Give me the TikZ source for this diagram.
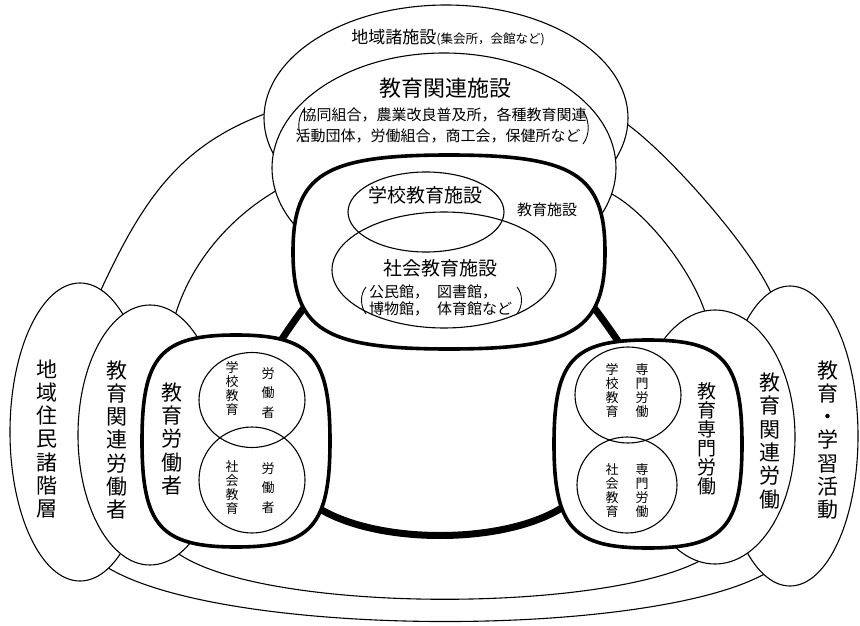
\documentclass[tikz,border=0pt]{standalone}
\usepackage{fontspec}
\setmainfont{Noto Sans CJK JP}
\usetikzlibrary{shapes.geometric}
% squircle: style, cx, cy, half-width, half-height
\newcommand\drawsqc[5]{%
  \draw[#1] (#2+#4,#3) .. controls (#2+#4,#3+0.8*#5) and (#2+0.8*#4,#3+#5) .. (#2,#3+#5)
    .. controls (#2-0.8*#4,#3+#5) and (#2-#4,#3+0.8*#5) .. (#2-#4,#3)
    .. controls (#2-#4,#3-0.8*#5) and (#2-0.8*#4,#3-#5) .. (#2,#3-#5)
    .. controls (#2+0.8*#4,#3-#5) and (#2+#4,#3-0.8*#5) .. (#2+#4,#3) -- cycle;}
\tikzset{
  conn/.style={line width=1.1pt},
  ring/.style={line width=7pt},
  ell/.style={ellipse, draw, fill=white, line width=1.1pt, inner sep=0pt, outer sep=0pt},
  inell/.style={ellipse, draw, line width=1.1pt, inner sep=0pt, outer sep=0pt},
  boxsq/.style={draw, fill=white, line width=3.6pt},
  paren/.style={line width=0.9pt},
  vt/.style={align=center, inner sep=0pt},
  big/.style={font=\fontsize{21}{23.3}\selectfont},
  small/.style={font=\fontsize{13}{14}\selectfont},
}
\begin{document}
\begin{tikzpicture}[x=1pt,y=-1pt]
\useasboundingbox (0,0) rectangle (860,626);

% ---------- connecting arcs (behind the shapes) ----------
\coordinate (otl1) at (100,292); \coordinate (otl2) at (270,112);
\draw[conn] (otl1) .. controls (143,199) and (180,144) .. (otl2);
\coordinate (otr1) at (624,122); \coordinate (otr2) at (772,295);
\draw[conn] (otr1) .. controls (665,150) and (750,245) .. (otr2);
\coordinate (ob1) at (105,566); \coordinate (ob2) at (768,572);
\draw[conn] (ob1) .. controls (220,639) and (654,639) .. (ob2);

\coordinate (mtl1) at (175,316); \coordinate (mtl2) at (279,189);
\draw[conn] (mtl1) .. controls (190,265) and (228,218) .. (mtl2);
\coordinate (mtr1) at (608,192); \coordinate (mtr2) at (706,315);
\draw[conn] (mtr1) .. controls (645,210) and (692,270) .. (mtr2);
\coordinate (mb1) at (176,552); \coordinate (mb2) at (705,558);
\draw[conn] (mb1) .. controls (260,614) and (610,614) .. (mb2);

\coordinate (ttl1) at (316,292); \coordinate (ttl2) at (275,350);
\draw[ring] (ttl1) .. controls (302,310) and (290,326) .. (ttl2);
\coordinate (ttr1) at (582,292); \coordinate (ttr2) at (624,350);
\draw[ring] (ttr1) .. controls (596,310) and (608,326) .. (ttr2);
\coordinate (tb1) at (305,498); \coordinate (tb2) at (575,498);
\draw[ring] (tb1) .. controls (360,548) and (520,548) .. (tb2);

% ---------- top group ----------
\node[ell, minimum width=364pt, minimum height=226pt] (E1) at (446,118) {};
\node[ell, minimum width=344pt, minimum height=230pt] (E2) at (444,168) {};
\coordinate (B1) at (449,252);
\drawsqc{boxsq}{449}{252}{156}{97}
\node[inell, minimum width=156pt, minimum height=80pt] (S1) at (426,212) {};
\node[inell, minimum width=224pt, minimum height=116pt] (S2) at (444,270) {};

% ---------- left group ----------
\node[ell, minimum width=140pt, minimum height=298pt] (L1) at (80,432) {};
\node[ell, minimum width=144pt, minimum height=260pt] (L2) at (150,435) {};
\coordinate (L3) at (236,441);
\drawsqc{boxsq}{236}{441}{94}{106}
\node[inell, minimum width=106pt, minimum height=95pt] (C1) at (252,400) {};
\node[inell, minimum width=106pt, minimum height=106pt] (C2) at (252,480) {};

% ---------- right group ----------
\node[ell, minimum width=136pt, minimum height=300pt] (R1) at (790,436) {};
\node[ell, minimum width=160pt, minimum height=254pt] (R2) at (715,437) {};
\coordinate (R3) at (648,444);
\drawsqc{boxsq}{648}{444}{94}{104}
\node[inell, minimum width=106pt, minimum height=96pt] (D1) at (628,395) {};
\node[inell, minimum width=100pt, minimum height=96pt] (D2) at (627,485) {};

% ---------- texts: top ----------
\node[inner sep=0pt, font=\fontsize{17}{17}\selectfont] (tE1) at (448,38)
  {地域諸施設{\fontsize{12.5}{12.5}\selectfont (集会所，会館など)}};
\node[inner sep=0pt, font=\fontsize{22}{22}\selectfont] (tE2) at (445,88) {教育関連施設};
\node[inner sep=0pt, font=\fontsize{15}{15}\selectfont] (tE2a) at (444,115) {協同組合，農業改良普及所，各種教育関連};
\node[inner sep=0pt, font=\fontsize{15}{15}\selectfont] (tE2b) at (438,136) {活動団体，労働組合，商工会，保健所など};
\draw[paren] (304,109) .. controls (297,119) and (297,133) .. (304,142);
\draw[paren] (583,111) .. controls (590,121) and (590,135) .. (583,144);

\node[inner sep=0pt, font=\fontsize{15}{15}\selectfont] (tB1) at (547,210) {教育施設};
\node[inner sep=0pt, font=\fontsize{19}{19}\selectfont] (tS1) at (425,195) {学校教育施設};
\node[inner sep=0pt, font=\fontsize{19}{19}\selectfont] (tS2) at (440,268) {社会教育施設};
\node[inner sep=0pt, anchor=west, font=\fontsize{15}{15}\selectfont] (tS2a) at (369,292) {公民館，\hspace{8pt}図書館，};
\node[inner sep=0pt, anchor=west, font=\fontsize{15}{15}\selectfont] (tS2b) at (369,309) {博物館，\hspace{8pt}体育館など};
\draw[paren] (366,287) .. controls (360,294) and (360,306) .. (366,314);
\draw[paren] (517,287) .. controls (523,294) and (523,306) .. (517,314);

% ---------- texts: left ----------
\node[vt, big] (tL1) at (47,439) {地\\域\\住\\民\\諸\\階\\層};
\node[vt, big] (tL2) at (117,440) {教\\育\\関\\連\\労\\働\\者};
\node[vt, big] (tL3) at (172,439) {教\\育\\労\\働\\者};
\node[vt, small] (tC1a) at (232,389) {学\\校\\教\\育};
\node[vt, font=\fontsize{13}{19.5}\selectfont] (tC1b) at (268,393) {労\\働\\者};
\node[vt, small] (tC2a) at (232,488) {社\\会\\教\\育};
\node[vt, font=\fontsize{13}{19.5}\selectfont] (tC2b) at (268,488) {労\\働\\者};

% ---------- texts: right ----------
\node[vt, big] (tR1) at (828,440) {教\\育\\・\\学\\習\\活\\動};
\node[vt, big] (tR2) at (770,441) {教\\育\\関\\連\\労\\働};
\node[vt, font=\fontsize{19}{19}\selectfont] (tR3) at (707,439) {教\\育\\専\\門\\労\\働};
\node[vt, small] (tD1a) at (612,391) {学\\校\\教\\育};
\node[vt, small] (tD1b) at (642,391) {専\\門\\労\\働};
\node[vt, small] (tD2a) at (612,491) {社\\会\\教\\育};
\node[vt, small] (tD2b) at (642,491) {専\\門\\労\\働};
\end{tikzpicture}
\end{document}
